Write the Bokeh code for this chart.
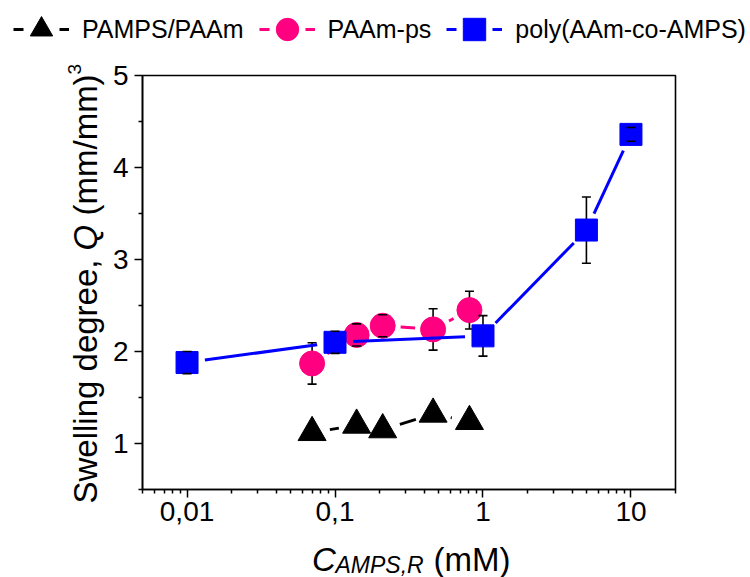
import numpy as np
from bokeh.plotting import figure
from bokeh.layouts import column, row
from bokeh.models import (FixedTicker, CustomJSTickFormatter, Label, Legend,
                          LegendItem, ColumnDataSource, Range1d)
from bokeh.embed import file_html
from bokeh.resources import INLINE

# ---------------- data ----------------
c_pamps = [0.07, 0.14, 0.21, 0.46, 0.81]
q_pamps = [1.12, 1.20, 1.15, 1.32, 1.24]

c_ps = [0.07, 0.14, 0.21, 0.46, 0.81]
q_ps = [1.87, 2.18, 2.28, 2.24, 2.45]
e_ps = [0.225, 0.12, 0.12, 0.225, 0.205]

c_co = [0.01, 0.1, 1, 5, 10]
q_co = [1.88, 2.10, 2.17, 3.32, 4.36]
e_co = [0.12, 0.12, 0.22, 0.36, 0.075]

series_names = ["PAMPS/PAAm", "PAAm-ps", "poly(AAm-co-AMPS)"]
x_major = [0.01, 0.1, 1, 10]
y_major = [1, 2, 3, 4, 5]
y_minor = [0.5, 1.5, 2.5, 3.5, 4.5]

X_RANGE = (0.005, 20)
Y_RANGE = (0.5, 5)
x_minor = [k * 10.0 ** e for e in (-3, -2, -1, 0, 1) for k in range(2, 10)
           if X_RANGE[0] - 1e-12 <= k * 10.0 ** e <= X_RANGE[1] + 1e-9]

FONT = "Liberation Sans"
BLACK, PINK, BLUE = "#000000", "#FF0080", "#0000FF"

# ---------------- layout sizes ----------------
W = 750
LEG_H = 58          # legend strip
MAIN_TOP, MAIN_BOTTOM = 17, 46
FRAME_W, FRAME_H = 533, 414
MAIN_H = MAIN_TOP + FRAME_H + MAIN_BOTTOM
XLAB_H = 577 - LEG_H - MAIN_H
YLAB_W = 106


def blank_fig(w, h):
    f = figure(width=w, height=h, x_range=Range1d(0, w), y_range=Range1d(0, h),
               x_axis_location=None, y_axis_location=None, min_border=0,
               toolbar_location=None, output_backend="svg", frame_align=False)
    f.xgrid.visible = False
    f.ygrid.visible = False
    f.outline_line_color = None
    return f


# ---------------- main plot ----------------
p = figure(x_axis_type="log", x_range=X_RANGE, y_range=Y_RANGE,
           frame_width=FRAME_W, frame_height=FRAME_H,
           min_border_left=36, min_border_right=W - YLAB_W - 36 - FRAME_W,
           min_border_top=MAIN_TOP, min_border_bottom=MAIN_BOTTOM,
           output_backend="svg", toolbar_location=None, frame_align=False)
p.xgrid.visible = False
p.ygrid.visible = False
p.outline_line_color = "black"
p.outline_line_width = 1.6

p.xaxis.ticker = FixedTicker(ticks=x_major, minor_ticks=x_minor)
p.xaxis.formatter = CustomJSTickFormatter(code="return String(tick).replace('.', ',');")
p.yaxis.ticker = FixedTicker(ticks=y_major, minor_ticks=y_minor)
for ax in (p.xaxis[0], p.yaxis[0]):
    ax.axis_line_color = "black"
    ax.axis_line_width = 1.6
    ax.major_tick_line_color = "black"
    ax.major_tick_line_width = 1.5
    ax.minor_tick_line_color = "black"
    ax.minor_tick_line_width = 1.5
    ax.major_tick_out = 8
    ax.major_tick_in = 0
    ax.minor_tick_out = 4
    ax.minor_tick_in = 0
    ax.major_label_text_font = FONT
    ax.major_label_text_font_size = "28px"
    ax.major_label_text_color = "black"
p.xaxis.major_label_standoff = 4
p.yaxis.major_label_standoff = 6

# Origin-style connecting lines that stop short of the markers
KX = FRAME_W / np.log10(X_RANGE[1] / X_RANGE[0])
KY = FRAME_H / (Y_RANGE[1] - Y_RANGE[0])


def gapped(xs, ys, gap=18.0):
    out = dict(x0=[], y0=[], x1=[], y1=[])
    for i in range(len(xs) - 1):
        lx0, lx1 = np.log10(xs[i]), np.log10(xs[i + 1])
        y0, y1 = ys[i], ys[i + 1]
        L = np.hypot((lx1 - lx0) * KX, (y1 - y0) * KY)
        if L <= 2 * gap:
            continue
        f = gap / L
        out["x0"].append(10 ** (lx0 + f * (lx1 - lx0)))
        out["y0"].append(y0 + f * (y1 - y0))
        out["x1"].append(10 ** (lx1 - f * (lx1 - lx0)))
        out["y1"].append(y1 - f * (y1 - y0))
    return ColumnDataSource(out)


def bounds(ys, es):
    return [y - e for y, e in zip(ys, es)], [y + e for y, e in zip(ys, es)]


# PAMPS/PAAm (black triangles, dashed)
p.segment("x0", "y0", "x1", "y1", source=gapped(c_pamps, q_pamps),
          line_color=BLACK, line_width=2.8, line_dash="20 5")
p.scatter(c_pamps, q_pamps, marker="triangle", size=28,
          fill_color=BLACK, line_color=BLACK, line_width=1)

# PAAm-ps (pink circles, dashed)
p.segment("x0", "y0", "x1", "y1", source=gapped(c_ps, q_ps),
          line_color=PINK, line_width=3, line_dash="20 5")
lo, hi = bounds(q_ps, e_ps)
p.segment(c_ps, lo, c_ps, hi, line_color=BLACK, line_width=1.6)
p.scatter(c_ps, q_ps, marker="circle", size=25,
          fill_color=PINK, line_color=PINK, line_width=1)
p.scatter(c_ps + c_ps, lo + hi, marker="dash", size=9, line_color=BLACK, line_width=1.6)

# poly(AAm-co-AMPS) (blue squares, solid)
p.segment("x0", "y0", "x1", "y1", source=gapped(c_co, q_co),
          line_color=BLUE, line_width=3)
lo, hi = bounds(q_co, e_co)
p.segment(c_co, lo, c_co, hi, line_color=BLACK, line_width=1.6)
p.scatter(c_co, q_co, marker="square", size=22,
          fill_color=BLUE, line_color=BLUE, line_width=1)
p.scatter(c_co + c_co, lo + hi, marker="dash", size=9, line_color=BLACK, line_width=1.6)

# ---------------- legend strip ----------------
leg = blank_fig(W, LEG_H)
nan_src = ColumnDataSource(dict(x=[np.nan], y=[np.nan]))
items = []
for name, color, marker in zip(series_names, (BLACK, PINK, BLUE),
                               ("triangle", "circle", "square")):
    ln = leg.line("x", "y", source=nan_src, line_color=color, line_width=3,
                  line_dash="10 36")
    mk = leg.scatter("x", "y", source=nan_src, marker=marker, fill_color=color,
                     line_color=color, size=20)
    items.append(LegendItem(label=name, renderers=[ln, mk]))
legend = Legend(items=items, orientation="horizontal", location=(13, 0),
                glyph_width=56, glyph_height=58, label_standoff=13, spacing=15,
                padding=0, margin=0, border_line_alpha=0, background_fill_alpha=0,
                label_text_font=FONT, label_text_font_size="25px",
                label_text_color="black")
leg.add_layout(legend)


def lab(f, text, x, y, size, italic=False, angle=0.0):
    f.add_layout(Label(x=x, y=y, x_units="screen", y_units="screen", text=text,
                       text_font=FONT, text_font_size=f"{size}px",
                       text_font_style="italic" if italic else "normal",
                       angle=angle, text_align="left",
                       text_baseline="alphabetic", text_color="black"))


# ---------------- y title strip ----------------
ylab = blank_fig(YLAB_W, MAIN_H)
A = np.pi / 2
lab(ylab, "Swelling degree,", 84.5, 32, 33, angle=A)
lab(ylab, "Q", 84.5, 285.1, 33, italic=True, angle=A)
lab(ylab, "(mm/mm)", 84.5, 320, 33, angle=A)
lab(ylab, "3", 73.5, 461, 19, angle=A)

# ---------------- x title strip ----------------
xlab = blank_fig(W, XLAB_H)
lab(xlab, "C", 311.5, 18, 33, italic=True)
lab(xlab, "AMPS,R", 335, 13, 23, italic=True)
lab(xlab, "(mM)", 433, 18, 33)

layout = column(leg, row(ylab, p, spacing=0), xlab, spacing=0)
open("out.html", "w").write(file_html(layout, INLINE))
